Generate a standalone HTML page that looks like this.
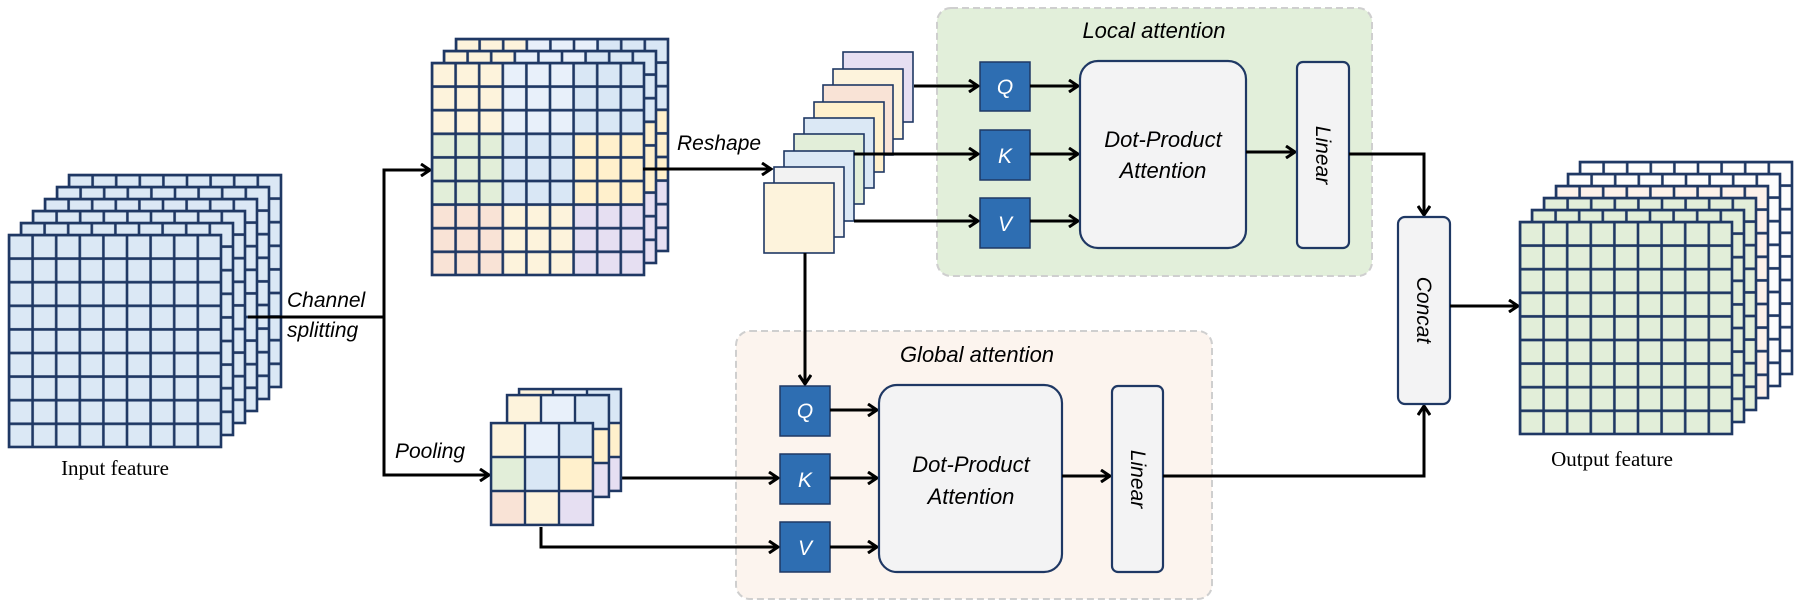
<!DOCTYPE html>
<html><head><meta charset="utf-8"><style>
html,body{margin:0;padding:0;background:#fff}
svg{display:block}
.it{font-family:"Liberation Sans",sans-serif;font-style:italic}
</style></head><body>
<svg width="1799" height="608" viewBox="0 0 1799 608" xmlns="http://www.w3.org/2000/svg">
<defs>
<pattern id="g" width="23.6" height="23.6" patternUnits="userSpaceOnUse"><path d="M0 0H23.6M0 0V23.6M0 23.6H23.6M23.6 0V23.6" stroke="#1f3864" stroke-width="2.6" fill="none"/></pattern>
<pattern id="p" width="34" height="34" patternUnits="userSpaceOnUse"><path d="M0 0H34M0 0V34M0 34H34M34 0V34" stroke="#1f3864" stroke-width="2.4" fill="none"/></pattern>
<marker id="a" markerWidth="14" markerHeight="14" refX="11" refY="7" orient="auto" markerUnits="userSpaceOnUse"><path d="M2 1L11 7L2 13" fill="none" stroke="#000" stroke-width="3"/></marker>
<symbol id="big" overflow="visible"><rect width="212" height="212" fill="url(#g)"/><rect width="212" height="212" fill="none" stroke="#1f3864" stroke-width="2.6"/></symbol>
<symbol id="split" overflow="visible">
<rect x="0" y="0" width="71" height="71" fill="#fdf3dc"/><rect x="71" y="0" width="71" height="71" fill="#e8f0fa"/><rect x="142" y="0" width="70" height="71" fill="#d9e7f5"/>
<rect x="0" y="71" width="71" height="71" fill="#e2eed9"/><rect x="71" y="71" width="71" height="71" fill="#d9e7f5"/><rect x="142" y="71" width="70" height="71" fill="#fff0cc"/>
<rect x="0" y="142" width="71" height="70" fill="#f9e3d6"/><rect x="71" y="142" width="71" height="70" fill="#fdf3dc"/><rect x="142" y="142" width="70" height="70" fill="#e6dff2"/>
<use href="#big"/></symbol>
<symbol id="pool" overflow="visible">
<rect x="0" y="0" width="34" height="34" fill="#fdf3dc"/><rect x="34" y="0" width="34" height="34" fill="#e8f0fa"/><rect x="68" y="0" width="34" height="34" fill="#d9e7f5"/>
<rect x="0" y="34" width="34" height="34" fill="#e2eed9"/><rect x="34" y="34" width="34" height="34" fill="#d9e7f5"/><rect x="68" y="34" width="34" height="34" fill="#fff0cc"/>
<rect x="0" y="68" width="34" height="34" fill="#f9e3d6"/><rect x="34" y="68" width="34" height="34" fill="#fdf3dc"/><rect x="68" y="68" width="34" height="34" fill="#e6dff2"/>
<rect width="102" height="102" fill="url(#p)"/><rect width="102" height="102" fill="none" stroke="#1f3864" stroke-width="2.4"/></symbol>
</defs>

<g transform="translate(69,175)"><rect width="212" height="212" fill="#dbe8f5"/><use href="#big"/></g>
<g transform="translate(57,187)"><rect width="212" height="212" fill="#dbe8f5"/><use href="#big"/></g>
<g transform="translate(45,199)"><rect width="212" height="212" fill="#dbe8f5"/><use href="#big"/></g>
<g transform="translate(33,211)"><rect width="212" height="212" fill="#dbe8f5"/><use href="#big"/></g>
<g transform="translate(21,223)"><rect width="212" height="212" fill="#dbe8f5"/><use href="#big"/></g>
<g transform="translate(9,235)"><rect width="212" height="212" fill="#dbe8f5"/><use href="#big"/></g>
<text x="115" y="475" font-family="Liberation Serif,serif" font-size="21" text-anchor="middle">Input feature</text>

<path d="M248 317H384V170H430" fill="none" stroke="#000" stroke-width="3" marker-end="url(#a)"/>
<path d="M384 317V475H489" fill="none" stroke="#000" stroke-width="3" marker-end="url(#a)"/>
<text class="it" x="287" y="307" font-size="21">Channel</text>
<text class="it" x="287" y="337" font-size="21">splitting</text>
<text class="it" x="395" y="458" font-size="21">Pooling</text>

<g transform="translate(456,39)"><use href="#split"/></g>
<g transform="translate(444,51)"><use href="#split"/></g>
<g transform="translate(432,63)"><use href="#split"/></g>

<path d="M643 169H771" fill="none" stroke="#000" stroke-width="3" marker-end="url(#a)"/>
<text class="it" x="677" y="150" font-size="21">Reshape</text>
<g stroke="#1f3864" stroke-width="1.6">
<rect x="843" y="52" width="70" height="70" fill="#e6dff2"/>
<rect x="833" y="69" width="70" height="70" fill="#fdf3dc"/>
<rect x="823" y="85" width="70" height="70" fill="#f9e3d6"/>
<rect x="814" y="102" width="70" height="70" fill="#fff0cc"/>
<rect x="804" y="118" width="70" height="70" fill="#dbe8f5"/>
<rect x="794" y="134" width="70" height="70" fill="#e2eed9"/>
<rect x="784" y="151" width="70" height="70" fill="#dbe8f5"/>
<rect x="774" y="167" width="70" height="70" fill="#f2f2f2"/>
<rect x="764" y="183" width="70" height="70" fill="#fdf3dc"/>
</g>

<rect x="937" y="8" width="435" height="268" rx="14" fill="#e2efda" stroke="#cfcfcf" stroke-width="2" stroke-dasharray="7 4"/>
<text class="it" x="1154" y="38" font-size="22" text-anchor="middle">Local attention</text>
<path d="M914 86H978" stroke="#000" stroke-width="3" marker-end="url(#a)"/>
<path d="M854 154H978" stroke="#000" stroke-width="3" marker-end="url(#a)"/>
<path d="M854 221H978" stroke="#000" stroke-width="3" marker-end="url(#a)"/>
<g fill="#2e6eb2" stroke="#1f3864" stroke-width="1.5">
<rect x="980" y="62" width="50" height="49"/><rect x="980" y="130" width="50" height="50"/><rect x="980" y="198" width="50" height="50"/>
</g>
<g class="it" fill="#fff" font-size="21" text-anchor="middle">
<text x="1005" y="94">Q</text><text x="1005" y="163">K</text><text x="1005" y="231">V</text></g>
<path d="M1030 86H1078" stroke="#000" stroke-width="3" marker-end="url(#a)"/>
<path d="M1030 154H1078" stroke="#000" stroke-width="3" marker-end="url(#a)"/>
<path d="M1030 221H1078" stroke="#000" stroke-width="3" marker-end="url(#a)"/>
<rect x="1080" y="61" width="166" height="187" rx="18" fill="#f3f3f4" stroke="#1f3864" stroke-width="2.2"/>
<text class="it" x="1163" y="147" font-size="22" text-anchor="middle">Dot-Product</text>
<text class="it" x="1163" y="178" font-size="22" text-anchor="middle">Attention</text>
<path d="M1246 152H1295" stroke="#000" stroke-width="3" marker-end="url(#a)"/>
<rect x="1297" y="62" width="52" height="186" rx="6" fill="#f3f3f4" stroke="#1f3864" stroke-width="2.2"/>
<text class="it" font-size="21" text-anchor="middle" transform="translate(1316,155) rotate(90)">Linear</text>

<rect x="736" y="331" width="476" height="268" rx="14" fill="#fcf4ee" stroke="#cfcfcf" stroke-width="2" stroke-dasharray="7 4"/>
<text class="it" x="977" y="362" font-size="22" text-anchor="middle">Global attention</text>
<path d="M805 253V384" stroke="#000" stroke-width="3" marker-end="url(#a)"/>
<path d="M622 478H778" stroke="#000" stroke-width="3" marker-end="url(#a)"/>
<path d="M541 527V547H778" fill="none" stroke="#000" stroke-width="3" marker-end="url(#a)"/>
<g fill="#2e6eb2" stroke="#1f3864" stroke-width="1.5">
<rect x="780" y="386" width="50" height="50"/><rect x="780" y="454" width="50" height="50"/><rect x="780" y="522" width="50" height="50"/>
</g>
<g class="it" fill="#fff" font-size="21" text-anchor="middle">
<text x="805" y="418">Q</text><text x="805" y="487">K</text><text x="805" y="555">V</text></g>
<path d="M830 410H877" stroke="#000" stroke-width="3" marker-end="url(#a)"/>
<path d="M830 478H877" stroke="#000" stroke-width="3" marker-end="url(#a)"/>
<path d="M830 547H877" stroke="#000" stroke-width="3" marker-end="url(#a)"/>
<rect x="879" y="385" width="183" height="187" rx="18" fill="#f3f3f4" stroke="#1f3864" stroke-width="2.2"/>
<text class="it" x="971" y="472" font-size="22" text-anchor="middle">Dot-Product</text>
<text class="it" x="971" y="504" font-size="22" text-anchor="middle">Attention</text>
<path d="M1062 476H1110" stroke="#000" stroke-width="3" marker-end="url(#a)"/>
<rect x="1112" y="386" width="51" height="186" rx="6" fill="#f3f3f4" stroke="#1f3864" stroke-width="2.2"/>
<text class="it" font-size="21" text-anchor="middle" transform="translate(1131,479) rotate(90)">Linear</text>

<g transform="translate(519,389)"><use href="#pool"/></g>
<g transform="translate(507,395)"><use href="#pool"/></g>
<g transform="translate(491,423)"><use href="#pool"/></g>

<path d="M1349 154H1424V215" fill="none" stroke="#000" stroke-width="3" marker-end="url(#a)"/>
<path d="M1163 476H1424V406" fill="none" stroke="#000" stroke-width="3" marker-end="url(#a)"/>
<rect x="1398" y="217" width="52" height="187" rx="7" fill="#f3f3f4" stroke="#1f3864" stroke-width="2.2"/>
<text class="it" font-size="21" text-anchor="middle" transform="translate(1417,310) rotate(90)">Concat</text>
<path d="M1450 306H1518" stroke="#000" stroke-width="3" marker-end="url(#a)"/>

<g transform="translate(1580,162)"><rect width="212" height="212" fill="#fdfdfd"/><use href="#big"/></g>
<g transform="translate(1568,174)"><rect width="212" height="212" fill="#fdfdfd"/><use href="#big"/></g>
<g transform="translate(1556,186)"><rect width="212" height="212" fill="#fcf1ea"/><use href="#big"/></g>
<g transform="translate(1544,198)"><rect width="212" height="212" fill="#e2eed9"/><use href="#big"/></g>
<g transform="translate(1532,210)"><rect width="212" height="212" fill="#e2eed9"/><use href="#big"/></g>
<g transform="translate(1520,222)"><rect width="212" height="212" fill="#e2eed9"/><use href="#big"/></g>
<text x="1612" y="466" font-family="Liberation Serif,serif" font-size="21" text-anchor="middle">Output feature</text>
</svg>
</body></html>
